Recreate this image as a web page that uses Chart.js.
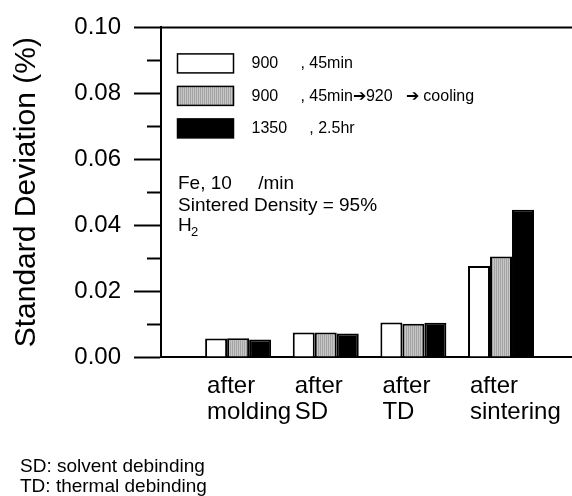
<!DOCTYPE html>
<html>
  <head>
    <title>Standard Deviation</title>
    <script src="https://cdn.jsdelivr.net/npm/chart.js"></script>
    <style>
      body {
        background: #fff;
        margin: 0;
      }
    </style>
  </head>
  <body>
    <canvas id="chart" width="572" height="496"></canvas>

    <script>
      // Data
      const stages = [['after', 'molding'], ['after', 'SD'], ['after', 'TD'], ['after', 'sintering']];
      const seriesNames = [
        '900\u00a0\u00a0\u00a0\u00a0\u00a0, 45min',
        '900\u00a0\u00a0\u00a0\u00a0\u00a0, 45min\u2794920\u00a0\u00a0\u00a0\u2794 cooling',
        '1350\u00a0\u00a0\u00a0\u00a0\u00a0, 2.5hr'
      ];
      const sd900 = [0.0056, 0.0074, 0.0105, 0.0276];
      const sd900to920 = [0.0057, 0.0074, 0.0101, 0.0305];
      const sd1350 = [0.0053, 0.0071, 0.0104, 0.0447];
      const yTicks = [0, 0.02, 0.04, 0.06, 0.08, 0.10];
      const yMinorTicks = [0.01, 0.03, 0.05, 0.07, 0.09];
      const notes = ['Fe, 10\u00a0\u00a0\u00a0\u00a0\u00a0/min', 'Sintered Density = 95%'];
      const footnotes = ['SD: solvent debinding', 'TD: thermal debinding'];

      const FONT = '"Liberation Sans", Arial, sans-serif';

      // dotted gray fill like the scanned figure
      function stipple() {
        const c = document.createElement('canvas');
        c.width = 2;
        c.height = 2;
        const g = c.getContext('2d');
        g.fillStyle = '#c6c6c6';
        g.fillRect(0, 0, 2, 2);
        g.fillStyle = '#a4a4a4';
        g.fillRect(0, 0, 1, 2);
        return g.createPattern(c, 'repeat');
      }

      const toPoints = values => values.map((v, i) => ({ x: i + 1, y: v }));

      const extras = {
        id: 'extras',
        afterDraw(chart) {
          const { ctx, chartArea: a } = chart;
          const y = chart.scales.y;
          ctx.save();
          ctx.strokeStyle = '#000';
          ctx.lineWidth = 2;

          // top frame line
          ctx.beginPath();
          ctx.moveTo(a.left, a.top);
          ctx.lineTo(a.right, a.top);
          ctx.stroke();

          // minor ticks
          yMinorTicks.forEach(v => {
            const py = Math.round(y.getPixelForValue(v)) + 0.5;
            ctx.beginPath();
            ctx.moveTo(a.left - 14, py);
            ctx.lineTo(a.left, py);
            ctx.stroke();
          });

          // legend
          ctx.font = '16px ' + FONT;
          ctx.textBaseline = 'middle';
          chart.data.datasets.forEach((ds, i) => {
            const bx = a.left + 16.5;
            const by = a.top + 26.5 + i * 32.5;
            ctx.fillStyle = ds.backgroundColor;
            ctx.fillRect(bx, by, 56, 19);
            ctx.lineWidth = 1.5;
            ctx.strokeRect(bx, by, 56, 19);
            ctx.fillStyle = '#000';
            ctx.fillText(ds.label, bx + 74, by + 10);
          });

          // conditions
          ctx.textBaseline = 'alphabetic';
          ctx.font = '19px ' + FONT;
          notes.forEach((t, i) => ctx.fillText(t, a.left + 17, a.top + 162 + i * 22));
          ctx.fillText('H', a.left + 17, a.top + 204);
          ctx.font = '13px ' + FONT;
          ctx.fillText('2', a.left + 30, a.top + 209);

          // abbreviations
          ctx.font = '19px ' + FONT;
          footnotes.forEach((t, i) => ctx.fillText(t, 20, chart.height - 24 + i * 20));
          ctx.restore();
        }
      };

      new Chart(document.getElementById('chart'), {
        type: 'bar',
        data: {
          datasets: [
            { label: seriesNames[0], data: toPoints(sd900), backgroundColor: '#ffffff' },
            { label: seriesNames[1], data: toPoints(sd900to920), backgroundColor: stipple() },
            { label: seriesNames[2], data: toPoints(sd1350), backgroundColor: '#000000' }
          ]
        },
        options: {
          responsive: false,
          animation: false,
          layout: { padding: { top: 17, right: 0, bottom: 0, left: 0 } },
          datasets: {
            bar: {
              borderColor: '#000',
              borderWidth: 2,
              barPercentage: 1,
              categoryPercentage: 0.753
            }
          },
          scales: {
            x: {
              type: 'linear',
              min: 0.12,
              max: 4.81,
              offset: false,
              grid: { display: false, offset: false },
              border: { color: '#000', width: 2 },
              afterBuildTicks(scale) {
                scale.ticks = stages.map((s, i) => ({ value: i + 1 }));
              },
              afterFit(scale) {
                scale.height = 139;
                scale.paddingLeft = 0;
                scale.paddingRight = 0;
              },
              ticks: {
                align: 'start',
                labelOffset: -31,
                padding: 8,
                color: '#000',
                maxRotation: 0,
                autoSkip: false,
                font: { family: FONT, size: 24, lineHeight: 1.08 },
                callback: v => stages[v - 1]
              }
            },
            y: {
              min: 0,
              max: 0.1,
              grid: {
                drawOnChartArea: false,
                tickLength: 27,
                tickWidth: 2,
                tickColor: '#000'
              },
              border: { color: '#000', width: 2 },
              afterBuildTicks(scale) {
                scale.ticks = yTicks.map(v => ({ value: v }));
              },
              afterFit(scale) {
                scale.width = 161;
              },
              ticks: {
                padding: 13,
                color: '#000',
                font: { family: FONT, size: 24 },
                callback: v => v.toFixed(2)
              },
              title: {
                display: true,
                text: 'Standard Deviation (%)',
                color: '#000',
                padding: { top: 12, bottom: 0 },
                font: { family: FONT, size: 30, lineHeight: 1 }
              }
            }
          },
          plugins: {
            legend: { display: false },
            tooltip: { enabled: false }
          }
        },
        plugins: [extras]
      });
    </script>
  </body>
</html>
